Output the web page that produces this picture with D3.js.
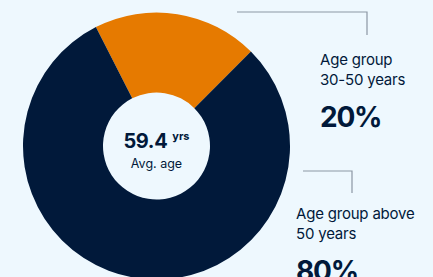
<!DOCTYPE html>
<html>
	<head>
		<meta charset="utf-8">
		<title>Average age donut</title>
		<script src="https://d3js.org/d3.v7.min.js"></script>
		<style>
			html, body
			{
				margin: 0;
				background: #eef8fe;
				overflow: hidden;
			}

			svg
			{
				display: block;
				font-family: Inter, "Noto Sans", sans-serif;
			}

			.leader
			{
				fill: none;
				stroke: #8c97a3;
				stroke-width: 1.2;
			}
		</style>
	</head>
	<body>
		<svg id="chart" width="433" height="277"></svg>

		<script>
			// data
			const groups = ["30-50 years", "above 50 years"];
			const shares = [20, 80];
			const labelLines = [["Age group", "30-50 years"], ["Age group above", "50 years"]];
			const avgAge = 59.4;

			const colors = ["#e67a00", "#01193a"];

			const width = 433, height = 277;
			const cx = 156.5, cy = 146;
			const outerR = 133.5, innerR = 53.5;

			const svg = d3.select("#chart");

			// the orange slice starts 27 degrees left of north
			const start = -27 * Math.PI / 180;
			const pie = d3.pie()
				.sort(null)
				.startAngle(start)
				.endAngle(start + 2 * Math.PI);

			const arc = d3.arc()
				.innerRadius(innerR)
				.outerRadius(outerR);

			const g = svg.append("g")
				.attr("transform", `translate(${cx},${cy})`);

			g.selectAll("path")
				.data(pie(shares))
				.join("path")
					.attr("d", arc)
					.attr("fill", (d, i) => colors[i]);

			// centre text
			const centre = g.append("text")
				.attr("text-anchor", "middle")
				.attr("y", 2)
				.attr("fill", "#01193a");
			centre.append("tspan")
				.attr("font-size", 20)
				.attr("font-weight", 700)
				.attr("letter-spacing", -0.4)
				.text(avgAge.toFixed(1));
			centre.append("tspan")
				.attr("font-size", 11)
				.attr("font-weight", 700)
				.attr("dx", 5)
				.attr("dy", -8)
				.text("yrs");

			g.append("text")
				.attr("text-anchor", "middle")
				.attr("y", 22)
				.attr("font-size", 12.5)
				.attr("fill", "#01193a")
				.text("Avg. age");

			// side labels with leader lines
			const labels = [
				{x: 320, y: 65, line: [[237, 12], [367, 12], [367, 35]]},
				{x: 296, y: 219, line: [[303, 171], [352, 171], [352, 193]]}
			];

			labels.forEach((l, i) => {
				svg.append("path")
					.attr("class", "leader")
					.attr("d", d3.line()(l.line));

				const t = svg.append("text")
					.attr("fill", "#01193a")
					.attr("font-size", 15)
					.attr("letter-spacing", -0.2);
				labelLines[i].forEach((s, j) => {
					t.append("tspan")
						.attr("x", l.x)
						.attr("y", l.y + j * 19.5)
						.text(s);
				});

				svg.append("text")
					.attr("x", l.x)
					.attr("y", l.y + 62)
					.attr("fill", "#01193a")
					.attr("font-size", 28)
					.attr("font-weight", 700)
					.attr("letter-spacing", -1.2)
					.text(shares[i] + "%");
			});
		</script>
	</body>
</html>
